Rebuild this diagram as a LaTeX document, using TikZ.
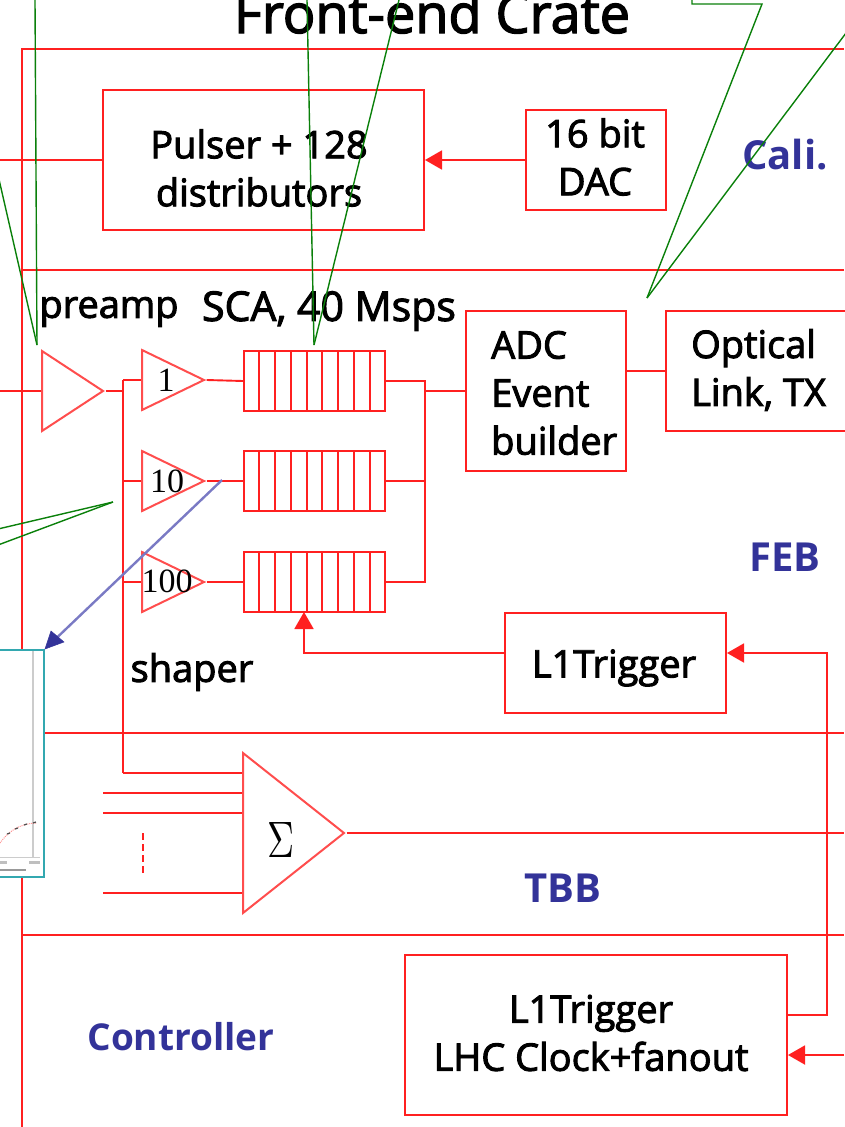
\documentclass[tikz,border=0pt]{standalone}
\usepackage{fontspec}
\setmainfont{Open Sans}[FakeBold=2.5]
\newfontfamily\cratefont{Open Sans Bold}
\newfontfamily\gainfont{Liberation Serif}
\usetikzlibrary{shapes.geometric, arrows.meta, calc}
\usepackage{xcolor}
\definecolor{framered}{HTML}{ff2020}
\definecolor{notegreen}{HTML}{0a800a}
\definecolor{labelblue}{HTML}{333399}
\definecolor{probeblue}{HTML}{7a7ac4}
\definecolor{plotteal}{HTML}{33a8b0}
\definecolor{plotgrey}{HTML}{cccccc}
\tikzset{
  frameline/.style={draw=framered, line width=2pt},
  wire/.style={draw=framered, line width=1.9pt},
  wirearrow/.style={wire, -{Stealth[length=17pt,width=19pt,inset=0pt]}},
  redbox/.style={rectangle, draw=framered, line width=2pt, inner sep=0pt},
  scabox/.style={rectangle, draw=framered, line width=1.9pt, inner sep=0pt,
                 minimum width=141pt, minimum height=60pt},
  amptri/.style={isosceles triangle, isosceles triangle stretches, shape border rotate=0,
                 draw=framered!80, line width=2pt, inner sep=0pt, anchor=lower side},
  gainlab/.style={font=\fontsize{34}{34}\selectfont\gainfont, inner sep=0pt},
  plainlab/.style={font=\fontsize{38}{48}\selectfont, inner sep=0pt, align=center},
  leftlab/.style={plainlab, align=left, anchor=west},
  crate/.style={font=\fontsize{40}{44}\selectfont\cratefont, text=labelblue, inner sep=0pt},
  callout/.style={draw=notegreen, line width=1.4pt},
}
\begin{document}
\begin{tikzpicture}[x=1pt, y=-1pt]
  \useasboundingbox (0,0) rectangle (844,1127);

  % --- Crate frame ---
  \coordinate (topleft) at (22,49);
  \coordinate (topright) at (844,49);
  \coordinate (botleft) at (22,1127);
  \draw[frameline] (topright) -- (topleft) -- (botleft);
  \draw[frameline] (22,270) -- (844,270);
  \draw[frameline] (22,935) -- (844,935);

  \node[inner sep=0pt, anchor=base, font=\fontsize{54}{54}\selectfont] (title) at (432,33) {Front-end Crate};

  % --- Calibration ---
  \node[redbox, minimum width=321pt, minimum height=140pt] (pulser) at (263.5,160) {};
  \node[plainlab] (pulsertext) at (259,168) {Pulser + 128\\distributors};
  \node[redbox, minimum width=140pt, minimum height=100pt] (dac) at (596,160) {};
  \node[plainlab] (dactext) at (595,157) {16 bit\\DAC};
  \coordinate (calin) at (0,160);
  \draw[wire] (calin) -- (pulser.west);
  \draw[wirearrow] (dac.west) -- (pulser.east);
  \node[crate] (cali) at (785,155) {Cali.};

  % --- FEB: amplifiers ---
  \coordinate (pain) at (0,391);
  \node[amptri, minimum width=80pt, minimum height=61pt] (preamp) at (41,391) {};
  \draw[wire] (pain) -- (preamp.lower side);
  \foreach \name/\ypos in {gainone/380, gainten/481, gainhun/582}
    \node[amptri, minimum width=60pt, minimum height=62pt] (\name) at (141,\ypos) {};
  \node[gainlab] (labone) at (166,380) {1};
  \node[gainlab] (labten) at (167,481) {10};
  \node[gainlab] (labhun) at (167,581) {100};

  \coordinate (busin) at (123,391);
  \coordinate (bustop) at (123,380);
  \coordinate (sumbus) at (123,773);
  \draw[wire] (preamp.apex) -- (busin);
  \draw[wire] (bustop) -- (sumbus);
  \draw[wire] (bustop) -- (gainone.lower side);
  \draw[wire] (123,481) -- (gainten.lower side);
  \draw[wire] (123,582) -- (gainhun.lower side);

  % --- FEB: SCA ---
  \node[scabox] (scaone) at (314.5,381) {};
  \node[scabox] (scaten) at (314.5,481) {};
  \node[scabox] (scahun) at (314.5,582) {};
  \foreach \name in {scaone, scaten, scahun}
    \foreach \i in {1,...,8}
      \draw[wire] ($(\name.north west)!\i/9!(\name.north east)$)
        -- ($(\name.south west)!\i/9!(\name.south east)$);
  \draw[wire] (gainone.apex) -- (scaone.west);
  \draw[wire] (gainten.apex) -- (scaten.west);
  \draw[wire] (gainhun.apex) -- (scahun.west);
  \coordinate (scabustop) at (425,381);
  \coordinate (scabusbot) at (425,582);
  \draw[wire] (scaone.east) -- (scabustop) -- (scabusbot) -- (scahun.east);
  \draw[wire] (scaten.east) -- (425,481);

  % --- FEB: readout ---
  \node[redbox, minimum width=160pt, minimum height=160pt] (adc) at (546,391) {};
  \node[leftlab] (adctext) at (491,393) {ADC\\Event\\builder};
  \node[redbox, minimum width=200pt, minimum height=120pt] (optical) at (766,371) {};
  \node[leftlab] (opticaltext) at (691,370) {Optical\\Link, TX};
  \draw[wire] (425,391) -- (adc.west);
  \draw[wire] ([yshift=20pt]adc.east) -- (optical.west);

  \node[redbox, minimum width=221pt, minimum height=100pt] (feblone) at (615.5,663) {};
  \node[plainlab] (feblonetext) at (614,668) {L1Trigger};
  \coordinate (scaarrow) at (304,612);
  \draw[wirearrow] ([yshift=10pt]feblone.west) -| (scaarrow);

  \node[plainlab] (preamplab) at (109,312) {preamp};
  \node[plainlab, font=\fontsize{41}{44}\selectfont] (scalab) at (329,311) {SCA, 40 Msps};
  \node[plainlab] (shaperlab) at (192,672) {shaper};
  \node[crate] (feb) at (785,557) {FEB};

  % --- Pulse shape inset ---
  \draw[frameline] (44,733) -- (844,733);
  \node[draw=plotteal, line width=2pt, fill=white, inner sep=0pt, minimum width=60pt,
        minimum height=227pt] (plot) at (14,763.5) {};
  \coordinate (plotaxistop) at (33,651);
  \coordinate (plotaxisbot) at (33,857);
  \draw[draw=plotgrey, line width=1.4pt] (plotaxistop) -- (plotaxisbot);
  \draw[draw=plotgrey, line width=1pt] (0,857) -- (40,857);
  \draw[draw=framered!50, densely dotted, line width=1pt] (0,843) .. controls (8,832) and (18,824) .. (36,823);
  \foreach \px/\py in {7/834, 15/829, 24/825, 33/823}
    \draw[draw=black!70, line width=1.2pt] (\px,\py) -- +(3,-1);
  \draw[draw=black!40, line width=2pt] (0,870) -- (26,870);
  \draw[draw=black!25, line width=3pt] (0,862) -- (7,862);
  \draw[draw=black!25, line width=3pt] (29,862) -- (40,862);

  % --- TBB ---
  \node[amptri, minimum width=160pt, minimum height=101pt] (sum) at (242,833) {};
  \node[inner sep=0pt] (sigma) at (281,840) {\resizebox{27pt}{35pt}{$\Sigma$}};
  \coordinate (sumout) at (844,833);
  \draw[wire] (sum.apex) -- (sumout);
  \draw[wire] (sumbus) -- (242,773);
  \coordinate (inone) at (103,793);
  \coordinate (intwo) at (103,813);
  \coordinate (inlast) at (103,893);
  \draw[wire] (inone) -- (242,793);
  \draw[wire] (intwo) -- (242,813);
  \draw[wire] (inlast) -- (242,893);
  \coordinate (gapa) at (143,833);
  \coordinate (gapb) at (143,876);
  \draw[draw=framered, line width=1.4pt, dash pattern=on 7pt off 4pt] (gapa) -- (gapb);
  \node[crate] (tbb) at (563,888) {TBB};

  % --- Controller ---
  \node[redbox, minimum width=382pt, minimum height=160pt] (fanout) at (596,1035) {};
  \node[plainlab] (fanouttext) at (591,1033) {L1Trigger\\LHC Clock+fanout};
  \coordinate (clockin) at (844,1055);
  \coordinate (trigturn) at (827,1015);
  \draw[wirearrow] ([yshift=20pt]fanout.east) -- (trigturn) |- ([yshift=10pt]feblone.east);
  \draw[wirearrow] (clockin) -- ([yshift=-20pt]fanout.east);
  \node[crate, font=\fontsize{37}{44}\selectfont\cratefont] (ctrl) at (181,1037) {Controller};

  % --- Probe arrow ---
  \coordinate (probe) at (222,480);
  \draw[draw=probeblue, line width=2.4pt] (probe) -- ($(probe)!0.95!(plot.north east)$);
  \draw[draw=labelblue, fill=labelblue, line width=0.5pt]
    (plot.north east) -- ++(19,-7) -- ++(-13,-11) -- cycle;

  % --- Callouts ---
  \coordinate (preampnote) at (37,345);
  \coordinate (scanote) at (314,345);
  \coordinate (adcnote) at (647,298);
  \coordinate (shapernote) at (113,502);
  \draw[callout] (35,0) -- (preampnote);
  \draw[callout] (-2,175) -- (preampnote);
  \draw[callout] (307,0) -- (scanote);
  \draw[callout] (399,0) -- (scanote);
  \draw[callout] (692,0) -- (692,4) -- (762,4) -- (adcnote);
  \draw[callout] (846,33) -- (adcnote);
  \draw[callout] (-2,529) -- (shapernote);
  \draw[callout] (-2,545) -- (shapernote);
\end{tikzpicture}
\end{document}
